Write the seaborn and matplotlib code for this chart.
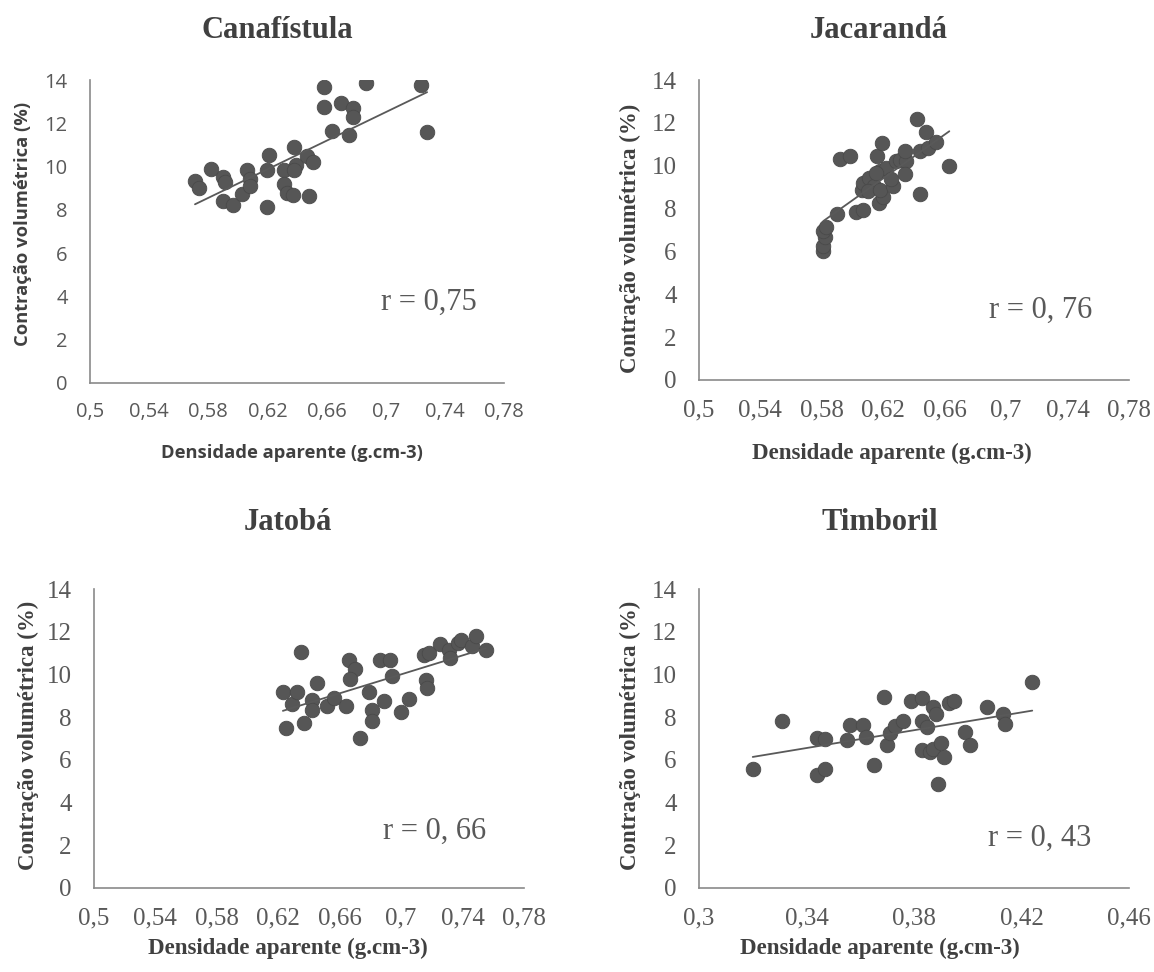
import numpy as np
import pandas as pd
import matplotlib
matplotlib.use("Agg")
import matplotlib.pyplot as plt
from matplotlib.ticker import FuncFormatter
import seaborn as sns

# Canafistula
cana_dens = [0.571, 0.574, 0.582, 0.590, 0.591, 0.590, 0.597, 0.603, 0.606, 0.608,
             0.608, 0.621, 0.620, 0.620, 0.631, 0.631, 0.633, 0.637, 0.638, 0.639,
             0.638, 0.647, 0.651, 0.648, 0.658, 0.658, 0.664, 0.670, 0.678, 0.678,
             0.675, 0.687, 0.724, 0.728]
cana_contr = [9.35, 9.00, 9.89, 9.50, 9.28, 8.43, 8.23, 8.74, 9.85, 9.43,
              9.12, 10.55, 9.82, 8.15, 9.85, 9.20, 8.77, 8.69, 10.92, 10.05,
              9.82, 10.49, 10.20, 8.63, 13.69, 12.74, 11.63, 12.94, 12.71, 12.28,
              11.48, 13.85, 13.78, 11.62]

# Jacaranda
jaca_dens = [0.581, 0.581, 0.582, 0.581, 0.583, 0.590, 0.592, 0.598, 0.602, 0.607,
             0.606, 0.607, 0.611, 0.614, 0.610, 0.616, 0.619, 0.618, 0.622, 0.617,
             0.620, 0.618, 0.626, 0.625, 0.628, 0.631, 0.635, 0.634, 0.634, 0.642,
             0.644, 0.644, 0.648, 0.649, 0.654, 0.663, 0.615]
jaca_contr = [6.00, 6.26, 6.67, 6.93, 7.13, 7.76, 10.33, 10.44, 7.82, 7.94,
              8.88, 9.19, 9.42, 9.07, 8.80, 10.44, 11.06, 9.74, 9.89, 8.26,
              8.54, 8.88, 9.03, 9.38, 10.20, 10.28, 10.20, 10.67, 9.63, 12.18,
              8.68, 10.67, 11.56, 10.83, 11.09, 10.00, 9.66]

# Jatoba
jato_dens = [0.623, 0.625, 0.629, 0.632, 0.635, 0.637, 0.642, 0.642, 0.645, 0.652,
             0.656, 0.664, 0.666, 0.670, 0.667, 0.673, 0.679, 0.681, 0.681, 0.686,
             0.693, 0.694, 0.689, 0.700, 0.705, 0.715, 0.718, 0.716, 0.717, 0.725,
             0.731, 0.732, 0.737, 0.739, 0.746, 0.749, 0.755]
jato_contr = [9.20, 7.49, 8.63, 9.20, 11.03, 7.72, 8.81, 8.35, 9.59, 8.50,
              8.89, 8.50, 10.69, 10.27, 9.78, 7.02, 9.20, 8.32, 7.80, 10.66,
              10.66, 9.94, 8.77, 8.22, 8.85, 10.92, 11.00, 9.72, 9.36, 11.44,
              11.15, 10.76, 11.47, 11.62, 11.34, 11.81, 11.15]

# Timboril
timb_dens = [0.320, 0.331, 0.344, 0.347, 0.344, 0.347, 0.355, 0.356, 0.361, 0.362,
             0.365, 0.369, 0.370, 0.371, 0.373, 0.376, 0.379, 0.383, 0.383, 0.383,
             0.385, 0.386, 0.387, 0.388, 0.387, 0.389, 0.390, 0.391, 0.393, 0.395,
             0.399, 0.401, 0.407, 0.413, 0.414, 0.424]
timb_contr = [5.57, 7.80, 7.02, 6.99, 5.30, 5.57, 6.94, 7.64, 7.64, 7.05,
              5.77, 8.92, 6.71, 7.25, 7.57, 7.80, 8.74, 8.89, 6.47, 7.80,
              7.54, 6.35, 8.47, 8.16, 6.51, 4.88, 6.79, 6.12, 8.66, 8.77,
              7.29, 6.71, 8.47, 8.14, 7.69, 9.64]

titles = ["Canafístula", "Jacarandá", "Jatobá", "Timboril"]
r_labels = ["r = 0,75", "r = 0, 76", "r = 0, 66", "r = 0, 43"]
x_label = "Densidade aparente (g.cm-3)"
y_label = "Contração volumétrica (%)"

sns.set_style("white")
plt.rcParams["font.family"] = ["Liberation Serif", "DejaVu Serif"]

W, H = 1154, 972
fig = plt.figure(figsize=(W / 100, H / 100), dpi=100)

panels = [
    # px: left, y of 0, right, y of 14 (pixels)
    dict(x=cana_dens, y=cana_contr, px=(90, 383, 504, 80), xlim=(0.5, 0.78), step=0.04,
         title=(277, 30), xl=(292, 453), yl=(23, 224), r=(0.697, 3.74), sans=True),
    dict(x=jaca_dens, y=jaca_contr, px=(699, 380, 1129, 80), xlim=(0.5, 0.78), step=0.04,
         title=(879, 30), xl=(892, 453), yl=(630, 238), r=(0.689, 3.27), sans=False),
    dict(x=jato_dens, y=jato_contr, px=(94, 888, 524, 589), xlim=(0.5, 0.78), step=0.04,
         title=(288, 523), xl=(288, 948), yl=(28, 735), r=(0.688, 2.65), sans=False),
    dict(x=timb_dens, y=timb_contr, px=(699, 888, 1129, 589), xlim=(0.3, 0.46), step=0.04,
         title=(880, 523), xl=(880, 948), yl=(630, 735), r=(0.4074, 2.34), sans=False),
]

dark = "#404040"
grey = "#595959"


def comma(v, pos):
    return f"{v:.2f}".rstrip("0").rstrip(".").replace(".", ",")


for i, p in enumerate(panels):
    left, y0, right, y14 = p["px"]
    ax = fig.add_axes([left / W, 1 - y0 / H, (right - left) / W, (y0 - y14) / H])
    df = pd.DataFrame({"dens": p["x"], "contr": p["y"]})
    sns.regplot(data=df, x="dens", y="contr", ax=ax, ci=None, color=grey,
                scatter_kws=dict(s=110, color="#565656", edgecolor="#4a4a4a",
                                 linewidths=0.6, alpha=1, zorder=2),
                line_kws=dict(color=grey, linewidth=1.3, zorder=3))

    ax.set_xlim(*p["xlim"])
    ax.set_ylim(0, 14)
    ax.set_xticks(np.round(np.arange(p["xlim"][0], p["xlim"][1] + 1e-9, p["step"]), 2))
    ax.set_yticks(np.arange(0, 15, 2))
    ax.xaxis.set_major_formatter(FuncFormatter(comma))
    sns.despine(ax=ax)
    for s in ["left", "bottom"]:
        ax.spines[s].set_color("#8a8a8a")
        ax.spines[s].set_linewidth(1.2)

    if p["sans"]:
        tick_font = dict(family=["Open Sans", "DejaVu Sans"], size=14.5)
        lab_font = dict(family=["Open Sans", "DejaVu Sans"], size=13.2, weight="bold")
    else:
        tick_font = dict(family=["Liberation Serif", "DejaVu Serif"], size=18)
        lab_font = dict(family=["Liberation Serif", "DejaVu Serif"], size=16.5, weight="bold")

    ax.tick_params(length=0, colors=grey)
    ax.tick_params(axis="y", pad=16)
    ax.tick_params(axis="x", pad=14)
    for t in ax.get_xticklabels() + ax.get_yticklabels():
        t.set_fontfamily(tick_font["family"])
        t.set_fontsize(tick_font["size"])

    ax.set_xlabel(x_label, color=dark, **lab_font)
    ax.set_ylabel(y_label, color=dark, **lab_font)
    ax.xaxis.set_label_coords(p["xl"][0] / W, 1 - p["xl"][1] / H, transform=fig.transFigure)
    ax.yaxis.set_label_coords(p["yl"][0] / W, 1 - p["yl"][1] / H, transform=fig.transFigure)
    ax.xaxis.label.set_va("center")
    ax.yaxis.label.set_va("center")

    ax.text(p["r"][0], p["r"][1], r_labels[i], ha="left", va="center",
            fontsize=22, color=grey, family=["Liberation Serif", "DejaVu Serif"])

    fig.text(p["title"][0] / W, 1 - p["title"][1] / H, titles[i], ha="center", va="center",
             fontsize=22, fontweight="bold", color=dark,
             family=["Liberation Serif", "DejaVu Serif"])

fig.savefig("out.png", dpi=100)
